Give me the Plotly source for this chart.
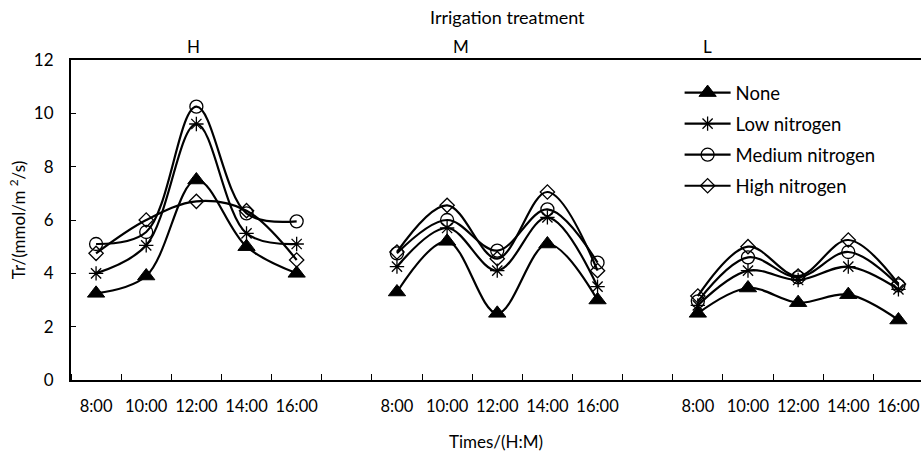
import plotly.graph_objects as go

# ---- data ----
times = ["8:00", "10:00", "12:00", "14:00", "16:00"]
irrigation = ["H", "M", "L"]
series_names = ["None", "Low nitrogen", "Medium nitrogen", "High nitrogen"]

none_H = [3.25, 3.9, 7.5, 5.0, 4.0]
none_M = [3.3, 5.2, 2.5, 5.1, 3.0]
none_L = [2.5, 3.45, 2.9, 3.2, 2.25]

low_H = [4.0, 5.05, 9.6, 5.5, 5.1]
low_M = [4.25, 5.7, 4.1, 6.1, 3.5]
low_L = [2.8, 4.1, 3.75, 4.25, 3.4]

med_H = [5.1, 5.55, 10.25, 6.25, 5.95]
med_M = [4.75, 6.0, 4.85, 6.4, 4.4]
med_L = [2.95, 4.6, 3.85, 4.8, 3.55]

high_H = [4.75, 6.0, 6.7, 6.35, 4.5]
high_M = [4.8, 6.55, 4.55, 7.05, 4.1]
high_L = [3.15, 5.0, 3.9, 5.25, 3.6]

series = {
    "None": (none_H, none_M, none_L),
    "Low nitrogen": (low_H, low_M, low_L),
    "Medium nitrogen": (med_H, med_M, med_L),
    "High nitrogen": (high_H, high_M, high_L),
}

FONT = "Lato"
FS = 17

# category positions: H 0-4, gap 5, M 6-10, gap 11, L 12-16
group_start = [0, 6, 12]
xs = []
for g in group_start:
    xs += [g + i for i in range(len(times))] + [None]
tickvals = [g + i for g in group_start for i in range(len(times))]
ticktext = times * 3

styles = {
    "None": dict(symbol="triangle-up", size=15, color="black", line=dict(color="black", width=1)),
    "Low nitrogen": dict(symbol="asterisk-open", size=12, color="black", line=dict(color="black", width=1.3)),
    "Medium nitrogen": dict(symbol="circle-open", size=13, color="black", line=dict(color="black", width=1.3)),
    "High nitrogen": dict(symbol="diamond-open", size=11, color="black", line=dict(color="black", width=1.3)),
}

fig = go.Figure()
for name in series_names:
    ys = []
    for part in series[name]:
        ys += list(part) + [None]
    fig.add_trace(go.Scatter(
        x=xs, y=ys, name=name, mode="lines+markers",
        line=dict(color="black", width=2.2, shape="spline", smoothing=1),
        marker=styles[name], connectgaps=False, legendgroup=name,
    ))

fig.update_layout(
    width=921, height=452,
    margin=dict(l=71, r=0, t=60, b=72, autoexpand=False),
    paper_bgcolor="white", plot_bgcolor="white",
    font=dict(family=FONT, size=FS, color="black"),
    showlegend=True,
    legend=dict(x=0.716, y=0.956, xanchor="left", yanchor="top",
                bgcolor="rgba(0,0,0,0)", font=dict(size=18.5, family=FONT),
                tracegroupgap=4, itemwidth=46),
    xaxis=dict(
        range=[-0.5, 16.45], tickmode="array", tickvals=tickvals, ticktext=ticktext,
        ticks="", showgrid=False, zeroline=False, automargin=False,
        ticklabelstandoff=10, ticklabeloverflow="allow",
        showline=True, linecolor="black", linewidth=2, mirror=True,
        minor=dict(tick0=-0.5, dtick=1, ticks="inside", ticklen=6, tickwidth=1.3,
                   tickcolor="black", showgrid=False),
        title=dict(text="Times/(H:M)", font=dict(size=FS), standoff=25),
        tickfont=dict(size=16.5),
    ),
    yaxis=dict(
        range=[0, 12], dtick=2, ticks="inside", ticklen=5, tickwidth=1.3, tickcolor="black",
        showgrid=False, zeroline=False, showline=True, linecolor="black", linewidth=2,
        automargin=False, ticklabelstandoff=12,
        title=dict(text="Tr/(mmol/m <sup>2</sup>/s)", font=dict(size=FS), standoff=4),
        tickfont=dict(size=FS),
    ),
)

# top labels (irrigation treatment)
top_pos = [1.95, 7.27, 12.2]
for lab, xp in zip(irrigation, top_pos):
    fig.add_annotation(x=xp, y=1.0, xref="x", yref="paper", text=lab, showarrow=False,
                       yanchor="bottom", yshift=1, font=dict(size=FS, family=FONT))
fig.add_annotation(x=8.2, y=1.0, xref="x", yref="paper", text="Irrigation treatment",
                   showarrow=False, yanchor="bottom", yshift=30, font=dict(size=18, family=FONT))

fig.write_html("out.html", config={"displayModeBar": False},
               post_script="document.body.style.margin='0';")
